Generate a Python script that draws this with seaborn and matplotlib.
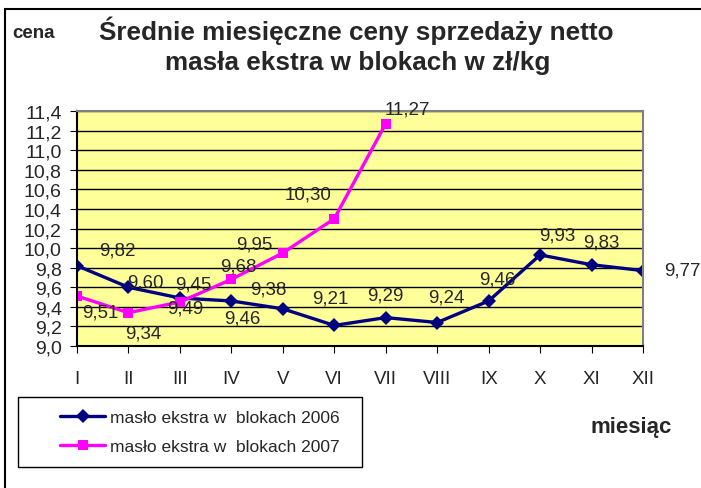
import pandas as pd
import numpy as np
import matplotlib
matplotlib.use("Agg")
import matplotlib.pyplot as plt
import seaborn as sns
from matplotlib.patches import Rectangle

months = ["I", "II", "III", "IV", "V", "VI", "VII", "VIII", "IX", "X", "XI", "XII"]
ceny_2006 = [9.82, 9.60, 9.49, 9.46, 9.38, 9.21, 9.29, 9.24, 9.46, 9.93, 9.83, 9.77]
ceny_2007 = [9.51, 9.34, 9.45, 9.68, 9.95, 10.30, 11.27]
names = ["masło ekstra w  blokach 2006", "masło ekstra w  blokach 2007"]

# label offsets (pixels, y up)
off_2006 = [(40, 16), (17, 5), (5, -10), (11, -17), (-15, 20), (-4, 27),
            (0, 23), (9, 25), (9, 22), (17, 20), (10, 23), (39, 1)]
off_2007 = [(23, -16), (15, -20), (13, 18), (7, 13), (-29, 9), (-26, 25), (22, 15)]

df = pd.concat([
    pd.DataFrame({"m": range(12), "cena": ceny_2006, "seria": names[0]}),
    pd.DataFrame({"m": range(len(ceny_2007)), "cena": ceny_2007, "seria": names[1]}),
])

sns.set_style("white")
plt.rcParams['font.family'] = ['Liberation Sans', 'DejaVu Sans']

fig = plt.figure(figsize=(7.01, 4.89), dpi=100)
ax = fig.add_axes([77 / 701, 1 - 347 / 489, (643 - 77) / 701, (347 - 112) / 489])
ax.set_facecolor("#FFFF99")

sns.lineplot(data=df, x="m", y="cena", hue="seria", style="seria",
             palette={names[0]: "#000080", names[1]: "#FF00FF"},
             markers={names[0]: "D", names[1]: "s"}, dashes=False,
             linewidth=2.4, markersize=7, markeredgewidth=0, ax=ax, legend=True)

for vals, offs in ((ceny_2006, off_2006), (ceny_2007, off_2007)):
    for i, (v, (dx, dy)) in enumerate(zip(vals, offs)):
        ax.annotate(f"{v:.2f}".replace(".", ","), (i, v), xytext=(dx * 0.72, dy * 0.72),
                    textcoords="offset points", ha="center", va="center", fontsize=13.5)

ax.set_xlim(0, 11)
ax.set_ylim(9.0, 11.4)
yt = np.arange(9.0, 11.41, 0.2)
ax.set_yticks(yt)
ax.set_yticklabels([f"{t:.1f}".replace(".", ",") for t in yt], fontsize=14)
ax.set_xticks(range(12))
ax.set_xticklabels(months, fontsize=13.5)
ax.yaxis.grid(True, color="black", linewidth=1)
ax.set_axisbelow(True)
ax.tick_params(axis="x", direction="out", length=5, pad=12, color="black")
ax.tick_params(axis="y", direction="out", length=5, pad=6, color="black")
ax.tick_params(bottom=True, left=True)
for s in ("left", "bottom"):
    ax.spines[s].set_color("black")
    ax.spines[s].set_linewidth(1.5)
for s in ("top", "right"):
    ax.spines[s].set_color("#808080")
    ax.spines[s].set_linewidth(1.5)
ax.set_xlabel("")
ax.set_ylabel("")

handles, labels = ax.get_legend_handles_labels()
ax.get_legend().remove()
leg = fig.legend(handles, labels, loc="center left",
                 bbox_to_anchor=(60 / 701, 1 - 433 / 489), bbox_transform=fig.transFigure,
                 frameon=False, fontsize=12.5, handlelength=2.6, handletextpad=0.3,
                 labelspacing=0.75, borderpad=0, borderaxespad=0)
fig.patches.append(Rectangle((18 / 701, 1 - 468 / 489), 344 / 701, 70 / 489,
                             transform=fig.transFigure, fill=False,
                             edgecolor="black", linewidth=1))

fig.text(0.508, 1 - 31 / 489, "Średnie miesięczne ceny sprzedaży netto",
         ha="center", va="center", fontsize=18.8, fontweight="bold")
fig.text(0.51, 1 - 63 / 489, "masła ekstra w blokach w zł/kg",
         ha="center", va="center", fontsize=18.8, fontweight="bold")
fig.text(12 / 701, 1 - 33 / 489, "cena", ha="left", va="center", fontsize=13.5, fontweight="bold")
fig.text(631 / 701, 1 - 428 / 489, "miesiąc", ha="center", va="center", fontsize=16, fontweight="bold")

fig.patches.append(Rectangle((5 / 701, -0.1), 1.2, 1 - 10 / 489 + 0.1, transform=fig.transFigure,
                             fill=False, edgecolor="black", linewidth=1.5))

fig.savefig("out.png", dpi=100)
